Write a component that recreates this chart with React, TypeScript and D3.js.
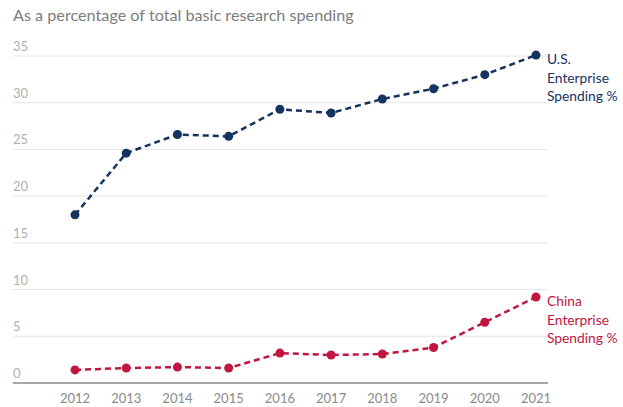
import React from "react";
import * as d3 from "d3";

const years = [2012, 2013, 2014, 2015, 2016, 2017, 2018, 2019, 2020, 2021];
const usValues = [18.0, 24.6, 26.6, 26.4, 29.3, 28.9, 30.4, 31.5, 33.0, 35.1];
const chinaValues = [1.4, 1.6, 1.7, 1.6, 3.2, 3.0, 3.1, 3.8, 6.5, 9.2];
const yTicks = [0, 5, 10, 15, 20, 25, 30, 35];
const title = "As a percentage of total basic research spending";
const usLabel = ["U.S.", "Enterprise", "Spending %"];
const chinaLabel = ["China", "Enterprise", "Spending %"];

const W = 623;
const H = 407;
const FONT = "Lato, 'Open Sans', sans-serif";
const NAVY = "#15335f";
const RED = "#c0163f";

export default function App() {
  const x = d3.scalePoint<number>().domain(years).range([75, 536]);
  const y = d3.scaleLinear().domain([0, 35]).range([383, 56]);
  const line = d3
    .line<number>()
    .x((_, i) => x(years[i]) as number)
    .y((d) => y(d));

  const series = [
    { values: usValues, color: NAVY, label: usLabel },
    { values: chinaValues, color: RED, label: chinaLabel },
  ];

  return (
    <svg
      width={W}
      height={H}
      style={{ position: "absolute", top: 0, left: 0, background: "#fff" }}
      fontFamily={FONT}
    >
      <text x={13} y={21} fontSize={16.2} fill="#7d7d7d">
        {title}
      </text>
      {yTicks.map((t) => (
        <g key={t}>
          {t !== 0 && (
            <line x1={13} x2={548} y1={y(t)} y2={y(t)} stroke="#e6e6e6" strokeWidth={1} />
          )}
          <text x={13} y={y(t) - 5} fontSize={13} fill="#b0b0b0">
            {t}
          </text>
        </g>
      ))}
      <line x1={13} x2={548} y1={y(0)} y2={y(0)} stroke="#8a8a8a" strokeWidth={1.5} />
      {years.map((yr) => (
        <text
          key={yr}
          x={x(yr)}
          y={403}
          fontSize={13}
          fill="#8a8a8a"
          textAnchor="middle"
        >
          {yr}
        </text>
      ))}
      {series.map((s, si) => {
        const last = s.values[s.values.length - 1];
        return (
          <g key={si}>
            <path
              d={line(s.values) || ""}
              fill="none"
              stroke={s.color}
              strokeWidth={2.5}
              strokeDasharray="6 4"
            />
            {s.values.map((v, i) => (
              <circle key={i} cx={x(years[i])} cy={y(v)} r={4.5} fill={s.color} />
            ))}
            {s.label.map((l, li) => (
              <text
                key={li}
                x={547}
                y={y(last) + 9 + li * 18.5}
                fontSize={13.8}
                fill={s.color}
              >
                {l}
              </text>
            ))}
          </g>
        );
      })}
    </svg>
  );
}
